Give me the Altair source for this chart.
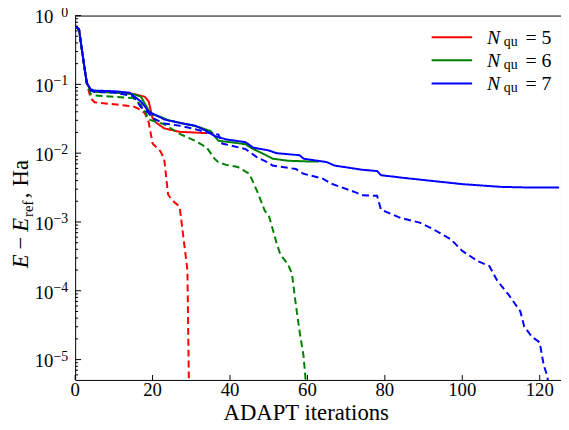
import altair as alt
import pandas as pd

# ---- data (log10 of E - E_ref) ----
it_5_solid = [0, 1, 2, 3, 4, 5, 10, 14, 16, 18, 19, 20, 21, 23, 27, 31, 34]
lg_5_solid = [-0.155, -0.2, -0.6, -0.98, -1.08, -1.10, -1.11, -1.13, -1.15, -1.18, -1.25, -1.49, -1.56, -1.64, -1.69, -1.70, -1.71]

it_5_dash = [0, 1, 2, 3, 4, 5, 10, 15, 17, 18, 19, 20, 22, 23, 24, 25, 26, 27, 29, 30]
lg_5_dash = [-0.155, -0.2, -0.6, -0.98, -1.2, -1.26, -1.29, -1.32, -1.37, -1.42, -1.55, -1.86, -1.97, -2.08, -2.60, -2.68, -2.73, -2.78, -3.7, -8.0]

it_6_solid = [0, 1, 2, 3, 4, 5, 10, 15, 17, 18, 19, 20, 22, 24, 28, 32, 35, 37, 40, 44, 46, 49, 51, 55, 60, 63]
lg_6_solid = [-0.155, -0.2, -0.6, -0.98, -1.09, -1.11, -1.12, -1.14, -1.18, -1.28, -1.38, -1.44, -1.47, -1.52, -1.57, -1.62, -1.68, -1.82, -1.84, -1.87, -1.94, -2.02, -2.08, -2.11, -2.12, -2.12]

it_6_dash = [0, 1, 2, 3, 4, 5, 10, 15, 17, 18, 19, 23, 27, 31, 34, 36, 37, 39, 42, 45, 47, 49, 50, 51, 52, 53, 55, 56, 57, 58, 59, 60]
lg_6_dash = [-0.155, -0.2, -0.6, -0.98, -1.14, -1.16, -1.18, -1.20, -1.30, -1.39, -1.51, -1.58, -1.72, -1.82, -1.92, -2.08, -2.13, -2.17, -2.20, -2.30, -2.55, -2.84, -2.90, -3.10, -3.30, -3.47, -3.62, -3.75, -4.2, -4.6, -4.95, -5.6]

it_7_solid = [0, 1, 2, 3, 4, 5, 10, 14, 17, 18, 19, 21, 23, 27, 31, 34, 36, 39, 44, 46, 50, 52, 58, 59, 65, 67, 74, 78, 79, 85, 90, 95, 100, 105, 110, 118, 125]
lg_7_solid = [-0.155, -0.2, -0.6, -0.98, -1.07, -1.09, -1.10, -1.12, -1.25, -1.32, -1.40, -1.45, -1.51, -1.56, -1.60, -1.68, -1.75, -1.80, -1.84, -1.92, -1.96, -2.00, -2.03, -2.08, -2.13, -2.18, -2.24, -2.26, -2.32, -2.36, -2.39, -2.42, -2.45, -2.47, -2.49, -2.50, -2.50]

it_7_dash = [0, 1, 2, 3, 4, 5, 10, 15, 17, 19, 20, 23, 27, 31, 34, 37, 38, 44, 47, 50, 51, 57, 59, 64, 66, 72, 74, 78, 79, 84, 89, 92, 97, 100, 104, 107, 109, 112, 115, 116, 118, 120, 121, 122, 123]
lg_7_dash = [-0.155, -0.2, -0.6, -0.98, -1.09, -1.11, -1.12, -1.17, -1.33, -1.42, -1.49, -1.57, -1.60, -1.65, -1.70, -1.73, -1.86, -1.94, -2.06, -2.14, -2.18, -2.23, -2.30, -2.37, -2.44, -2.56, -2.61, -2.62, -2.82, -2.94, -3.01, -3.09, -3.25, -3.42, -3.57, -3.64, -3.85, -4.06, -4.30, -4.52, -4.67, -4.75, -5.07, -5.25, -5.8]

series_labels = ["5", "6", "7"]
series_colors = ["#ff0000", "#008000", "#0000ff"]

x_ticks = [0, 20, 40, 60, 80, 100, 120]
x_tick_text = ["0", "20", "40", "60", "80", "100", "120"]
y_ticks = [1, 1e-1, 1e-2, 1e-3, 1e-4, 1e-5]
y_exps = ["0", "\u22121", "\u22122", "\u22123", "\u22124", "\u22125"]
y_minor = [k * 10.0 ** e for e in range(-6, 0) for k in range(2, 10)]
x_title = "ADAPT iterations"

# ---- build table ----
rows = []
for n, style, its, lgs in [
    ("5", "solid", it_5_solid, lg_5_solid), ("5", "dash", it_5_dash, lg_5_dash),
    ("6", "solid", it_6_solid, lg_6_solid), ("6", "dash", it_6_dash, lg_6_dash),
    ("7", "solid", it_7_solid, lg_7_solid), ("7", "dash", it_7_dash, lg_7_dash),
]:
    for i, l in zip(its, lgs):
        rows.append({"N": n, "style": style, "key": n + style, "it": i, "err": 10.0 ** l})
df = pd.DataFrame(rows)

W, H = 492, 369
YMIN = 10 ** -5.296
FONT = "Liberation Serif"
FS = 19

xs = alt.Scale(domain=[0, 125.5], nice=False, zero=False)
ys = alt.Scale(type="log", domain=[YMIN, 1], nice=False)

lines = alt.Chart(df).mark_line(strokeWidth=2, clip=True).encode(
    x=alt.X("it:Q", scale=xs, axis=None),
    y=alt.Y("err:Q", scale=ys, axis=None),
    color=alt.Color("N:N", scale=alt.Scale(domain=series_labels, range=series_colors), legend=None),
    strokeDash=alt.StrokeDash("style:N", scale=alt.Scale(domain=["solid", "dash"], range=[[1, 0], [7, 4]]), legend=None),
    detail="key:N",
    order="it:Q",
)

def txt(**kw):
    base = dict(font=FONT, color="black")
    base.update(kw)
    return base

# inward tick marks
xt = alt.Chart(pd.DataFrame({"v": x_ticks})).mark_rule(color="black", strokeWidth=1).encode(
    x=alt.X("v:Q", scale=xs), y=alt.value(H), y2=alt.value(H - 5))
yt = alt.Chart(pd.DataFrame({"v": y_ticks})).mark_rule(color="black", strokeWidth=1).encode(
    y=alt.Y("v:Q", scale=ys), x=alt.value(0), x2=alt.value(6))
ym = alt.Chart(pd.DataFrame({"v": [v for v in y_minor if YMIN <= v <= 1]})).mark_rule(color="black", strokeWidth=1).encode(
    y=alt.Y("v:Q", scale=ys), x=alt.value(0), x2=alt.value(3))

# tick labels
xlab = alt.Chart(pd.DataFrame({"v": x_ticks, "t": x_tick_text})).mark_text(
    **txt(fontSize=FS, align="center", baseline="alphabetic")).encode(
    x=alt.X("v:Q", scale=xs), y=alt.value(H + 16), text="t:N")
ylab = alt.Chart(pd.DataFrame({"v": y_ticks, "t": ["10"] * len(y_ticks)})).mark_text(
    **txt(fontSize=FS, align="right", baseline="alphabetic", dy=8)).encode(
    y=alt.Y("v:Q", scale=ys), x=alt.value(-22), text="t:N")
yexp = alt.Chart(pd.DataFrame({"v": y_ticks, "e": y_exps})).mark_text(
    **txt(fontSize=14, align="right", baseline="alphabetic", dy=1)).encode(
    y=alt.Y("v:Q", scale=ys), x=alt.value(-7), text="e:N")
xtit = alt.Chart(pd.DataFrame({"t": [x_title]})).mark_text(
    **txt(fontSize=23, align="center", baseline="alphabetic")).encode(
    x=alt.value(234), y=alt.value(H + 41), text="t:N")

layers = [lines, xt, yt, ym, xlab, ylab, yexp, xtit]

# legend
leg_y = [22, 45.3, 68.7]
for lab, col, yy in zip(series_labels, series_colors, leg_y):
    layers.append(alt.Chart(pd.DataFrame({"t": [lab]})).mark_rule(color=col, strokeWidth=2).encode(
        x=alt.value(361), x2=alt.value(402), y=alt.value(yy)))
    layers.append(alt.Chart(pd.DataFrame({"t": ["N"]})).mark_text(
        **txt(fontSize=20, fontStyle="italic", align="left", baseline="alphabetic")).encode(
        x=alt.value(417), y=alt.value(yy + 7), text="t:N"))
    layers.append(alt.Chart(pd.DataFrame({"t": ["qu"]})).mark_text(
        **txt(fontSize=14, align="left", baseline="alphabetic")).encode(
        x=alt.value(434), y=alt.value(yy + 9), text="t:N"))
    layers.append(alt.Chart(pd.DataFrame({"t": ["= " + lab]})).mark_text(
        **txt(fontSize=20, align="left", baseline="alphabetic")).encode(
        x=alt.value(456), y=alt.value(yy + 7), text="t:N"))

# y axis title pieces (rotated)
ytitle = [
    ("E", 256, 23, "italic", -48),
    ("\u2212", 237, 23, "normal", -48),
    ("E", 219, 23, "italic", -48),
    ("ref", 204, 15, "normal", -43),
    (",", 185, 23, "normal", -48),
    ("Ha", 173, 23, "normal", -48),
]
for t, yy, fs, st, xx in ytitle:
    layers.append(alt.Chart(pd.DataFrame({"t": [t]})).mark_text(
        **txt(fontSize=fs, fontStyle=st, angle=270, align="left", baseline="alphabetic")).encode(
        x=alt.value(xx), y=alt.value(yy), text="t:N"))

chart = alt.layer(*layers).properties(
    width=W, height=H,
    padding={"left": 68, "top": 5, "right": 0, "bottom": 46},
    autosize=alt.AutoSizeParams(type="none"),
).configure_view(stroke="black", strokeWidth=1)

chart.save("out.html", embed_options={"renderer": "svg", "actions": False})
